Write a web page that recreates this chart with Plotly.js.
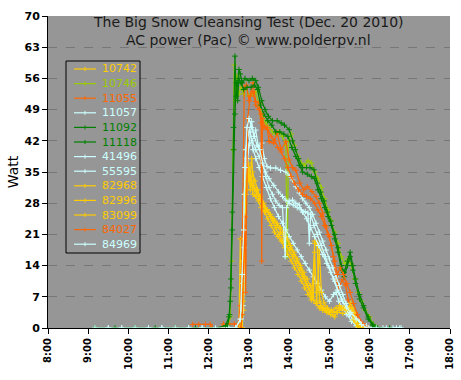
<!DOCTYPE html>
<html>
<head>
<meta charset="utf-8">
<script src="https://cdn.plot.ly/plotly-3.0.1.min.js"></script>
<style>html,body{margin:0;padding:0;background:#fff;}#chart{width:461px;height:380px;}</style>
</head>
<body>
<div id="chart"></div>
<script>
// ---- data (time "H:MM", watt) ----
const names = ["10742","10746","11055","11057","11092","11118","41496","55595","82968","82996","83099","84027","84969"];
const colors = ["#FFCC00","#99CC00","#FF6600","#CCFFFF","#008000","#008000","#CCFFFF","#CCFFFF","#FFCC00","#FFCC00","#FFCC00","#FF6600","#CCFFFF"];

const t10742 = ["12:45","12:47","12:48","12:52","12:54","12:56","12:59","13:02","13:05","13:08","13:12","13:17","13:22","13:27","13:32","13:37","13:42","13:47","13:52","13:57","14:02","14:07","14:12","14:17","14:22","14:27","14:32","14:36","14:38","14:42","14:44","14:47","14:52","14:58","15:05","15:12","15:20","15:28","15:35","15:40","15:45","15:50"];
const v10742 = [0,20,0,4,28,35,37,34,32,31,30,29.5,28,26.5,25,24.2,23,21.5,20.5,19.5,18,16.5,15,13.5,11.5,9.5,7.8,6.3,19,19,9.3,5,4.5,4,3.5,3.5,3.3,3.3,3,1.8,0.5,0];

const t10746 = ["12:28","12:32","12:34","12:36","12:38","12:40","12:42","12:45","12:48","12:52","12:56","13:00","13:05","13:10","13:15","13:20","13:25","13:30","13:35","13:40","13:45","13:50","13:55","13:57","13:59","14:03","14:08","14:13","14:18","14:23","14:28","14:33","14:38","14:43","14:48","14:53","14:58","15:03","15:08","15:13","15:18","15:23","15:28","15:33","15:38","15:43","15:48","15:53","16:00","16:06","16:12"];
const v10746 = [0,2.5,15,40,59,51,56.5,52.5,54,52.5,54,52,52.5,53,50,47.5,46,45,44,43.5,44,43,41,16,42,43.5,41,38.5,37,36.5,37.5,37,35,33.5,31.5,29,26.5,24,21.5,19,16,14.5,15.5,14,11,8,6,4,2.5,0.8,0];

const t11055 = ["11:36","11:45","11:55","12:02","12:05","12:20","12:22","12:30","12:38","12:44","12:47","12:50","12:53","12:56","13:00","13:06","13:10","13:15","13:18","13:22","13:27","13:30","13:37","13:42","13:48","13:55","14:00","14:05","14:10","14:16","14:22","14:27","14:34","14:40","14:45","14:50","14:55","15:00","15:06","15:10","15:14","15:19","15:24","15:28","15:33","15:40","15:48","15:55"];
const v11055 = [0.8,0.8,0.8,0.8,0,0,0.9,0.9,0.9,0.9,5,20,54,54.5,51,55,50.8,50.5,46,45,45,41.8,41.5,43.7,40,41.8,37.7,36,35.4,32.5,31,31.7,30.6,29.5,28,25.8,22.7,20.5,16,10.8,9,10.8,9.6,6.3,4,2.5,0.7,0];

const t11057 = ["9:10","9:30","9:50","10:10","10:30","10:50","11:10","11:30","11:50","12:10","12:30","12:40","12:48","12:51","12:53","12:55","13:00","13:04","13:07","13:10","13:14","13:19","13:23","13:27","13:32","13:40","13:47","13:55","14:00","14:05","14:10","14:15","14:20","14:25","14:30","14:35","14:40","14:45","14:50","14:55","15:00","15:05","15:10","15:15","15:20","15:25","15:30","15:35","15:45","15:55","16:05","16:20","16:35","16:45"];
const v11057 = [0,0,0,0,0,0,0,0,0,0,0,0,2,10,30,40,44,46.3,43,44.4,40.7,41.5,38,36.2,35.9,35.9,35.4,35,34.3,33.2,31.7,30.3,29,28,27,25.5,23.5,21.5,19.5,17.5,15.5,13.5,11.5,9.5,7.5,5.5,4,3,1.5,0.5,0,0,0,0];

const t11092 = ["9:10","9:40","10:10","10:40","11:10","11:40","12:10","12:25","12:30","12:32","12:33","12:35","12:37","12:39","12:41","12:43","12:45","12:47","12:50","12:54","13:00","13:05","13:10","13:14","13:19","13:24","13:29","13:35","13:42","13:48","13:53","14:00","14:05","14:09","14:14","14:20","14:26","14:31","14:37","14:42","14:47","14:52","14:57","15:02","15:08","15:13","15:18","15:22","15:27","15:31","15:35","15:39","15:45","15:51","15:58","16:05","16:12","16:30"];
const v11092 = [0,0,0,0,0,0,0,0.5,2.5,6,11,26,45,61,52,55,58,57,55,56,55.5,56,55.5,54,51,49,47.5,46.5,46.5,46,45.5,44.5,42,40,38,36,36,36,35.5,32.5,30.5,28.5,26,24,21,18,14,12.5,15,17,14,11,7.5,5,2.5,0.8,0,0];

const t11118 = ["12:28","12:31","12:33","12:35","12:37","12:39","12:41","12:43","12:45","12:48","12:52","12:57","13:03","13:08","13:13","13:17","13:22","13:28","13:34","13:40","13:46","13:52","13:58","14:04","14:10","14:15","14:20","14:27","14:33","14:38","14:43","14:48","14:53","14:58","15:03","15:08","15:13","15:18","15:22","15:27","15:31","15:35","15:39","15:45","15:51","15:58","16:05","16:10"];
const v11118 = [0.5,3,9,22,40,48,55,51,56,55,53.5,54,54,54.5,53.5,50,48,46.5,45.5,44,44,43.5,43,40.5,38.5,36.5,35,34.5,34,33.5,31,29,27,25,23,20,17,13,11.5,14,16,13,10,6.5,4.5,2,0.5,0];

const t41496 = ["12:50","12:52","12:54","12:57","13:00","13:05","13:10","13:15","13:20","13:25","13:30","13:37","13:44","13:50","13:55","14:00","14:06","14:12","14:18","14:24","14:28","14:30","14:32","14:37","14:42","14:48","14:54","15:00","15:06","15:12","15:18","15:24","15:30","15:37","15:45","15:52"];
const v41496 = [0,8,25,38,41,42,40,38.5,36.5,35,33.5,32,30.5,29.5,28.7,28,27.6,27,26.5,26.1,25.8,19,25.5,23,21,18.5,16,13.5,11,8.5,6.5,4.5,3,1.5,0.5,0];

const t55595 = ["12:49","12:51","12:53","12:55","12:58","13:02","13:06","13:10","13:15","13:20","13:26","13:32","13:38","13:44","13:50","13:55","14:00","14:06","14:12","14:18","14:24","14:30","14:36","14:42","14:48","14:54","15:00","15:06","15:10","15:14","15:20","15:26","15:33","15:40","15:47"];
const v55595 = [0,5,18,30,38,44,40,38,36,34,31.5,29,27,25,23.5,22,20.5,19,17.5,16,14.5,13,11.5,10,8.5,7,6,7.5,8,6,4.5,3,1.5,0.5,0];

const t82968 = ["12:48","12:50","12:52","12:54","12:57","13:00","13:03","13:06","13:10","13:14","13:18","13:23","13:28","13:33","13:38","13:43","13:48","13:53","13:58","14:03","14:08","14:13","14:18","14:23","14:28","14:33","14:38","14:41","14:45","14:48","14:52","14:57","15:03","15:10","15:18","15:25","15:32","15:36","15:42","15:48"];
const v82968 = [0,3,15,25,31,34,33,30,29.5,28.5,27,26,24.5,23,21.5,20.5,19.5,18,16.5,15,13.5,12,10.5,9,7.5,6.3,17,5.6,17.5,8,5.6,4.5,4,4.5,4.5,4,5.6,1.8,0.3,0];

const t82996 = ["12:50","12:52","12:55","12:58","13:01","13:04","13:07","13:11","13:15","13:20","13:25","13:30","13:35","13:40","13:45","13:50","13:55","14:00","14:05","14:10","14:15","14:20","14:25","14:30","14:35","14:40","14:45","14:50","14:56","15:02","15:08","15:15","15:22","15:30","15:38","15:42","15:47"];
const v82996 = [0,10,30,36,33,38,32,31,29,27.5,26.5,25.5,24,22.5,21,19.5,18.5,17.5,16,14.5,13,11.5,10,8.5,7,5.5,4.5,4,3.5,3,2.5,5,4.5,4,3.5,1,0];

const t83099 = ["12:49","12:51","12:53","12:56","12:59","13:02","13:05","13:09","13:13","13:17","13:22","13:27","13:32","13:37","13:42","13:47","13:52","13:57","14:02","14:07","14:12","14:17","14:22","14:27","14:32","14:36","14:38","14:42","14:45","14:50","14:55","15:00","15:07","15:15","15:22","15:30","15:35","15:39","15:44","15:50"];
const v83099 = [0,6,20,33,36,31,35,33,31,29,27.5,26.5,25.5,24.5,23.5,22.5,21.5,20,18.5,17,15.5,14,12.5,11,9.5,8,19.5,18.5,6,4.5,4,3.5,3.5,4,4.5,4.5,4.5,2,0.5,0];

const t84027 = ["12:48","12:50","12:54","12:55","12:58","13:02","13:06","13:10","13:15","13:18","13:19","13:20","13:24","13:28","13:33","13:38","13:43","13:48","13:53","13:58","14:03","14:08","14:14","14:20","14:26","14:32","14:38","14:43","14:48","14:53","14:58","15:03","15:08","15:12","15:16","15:21","15:26","15:31","15:36","15:42","15:50","15:57"];
const v84027 = [0,3,25,8,47,52,53,50,49,48,15,47,45,44.5,43,42,40.5,39.5,38,36,34,32.5,31,30,29.5,29,28,26.5,25,23,21,18.5,15,12,13.5,12,10,8,5.5,3,1,0];

const t84969 = ["9:10","9:30","9:50","10:10","10:30","10:50","11:10","11:30","11:50","12:10","12:30","12:40","12:47","12:50","12:52","12:54","12:57","13:00","13:04","13:08","13:12","13:16","13:20","13:25","13:30","13:35","13:40","13:45","13:50","13:54","13:56","14:00","14:05","14:10","14:15","14:20","14:26","14:32","14:38","14:44","14:50","14:56","15:02","15:08","15:14","15:20","15:26","15:32","15:40","15:48","15:56","16:10","16:25","16:40","16:47"];
const v84969 = [0,0,0,0,0,0,0,0,0,0,0,0,2,12,22,36,45,47,45,43,41,40,37,34,31.5,30,28.5,27.5,27,16,27,28.5,28.7,28,27.6,26,24.5,22.5,20.5,18.5,16.5,14.5,12.5,10.5,8,6,4.5,3.5,2,0.8,0,0,0,0,0];

const xTickVals = [8,9,10,11,12,13,14,15,16,17,18];
const xTickText = ["8:00","9:00","10:00","11:00","12:00","13:00","14:00","15:00","16:00","17:00","18:00"];
const yTickVals = [0,7,14,21,28,35,42,49,56,63,70];
const titleLines = ["The Big Snow Cleansing Test (Dec. 20 2010)","AC power (Pac) © www.polderpv.nl"];

// ---- build ----
const times = [t10742,t10746,t11055,t11057,t11092,t11118,t41496,t55595,t82968,t82996,t83099,t84027,t84969];
const vals  = [v10742,v10746,v11055,v11057,v11092,v11118,v41496,v55595,v82968,v82996,v83099,v84027,v84969];
function toHours(s){ const p = s.split(":"); return (+p[0]) + (+p[1])/60; }

const traces = names.map((n,i)=>({
  type:"scatter", mode:"lines+markers",
  x: times[i].map(toHours), y: vals[i],
  name: n, showlegend:false,
  line:{color:colors[i], width:1.2},
  marker:{symbol:"cross-thin", size:4, color:colors[i], line:{color:colors[i], width:1}}
}));

// plot-area pixel geometry -> paper coordinates (for the hand-drawn legend box)
const PL=48, PR=450, PT=16, PB=328;
const px = x => (x-PL)/(PR-PL);
const py = y => (PB-y)/(PB-PT);
const FONT = "DejaVu Sans, Verdana, sans-serif";

const shapes = [{type:"rect", xref:"paper", yref:"paper", x0:px(66), x1:px(140), y0:py(61), y1:py(253),
  fillcolor:"#969696", line:{color:"#000", width:1}, layer:"above"}];
const annotations = [];
names.forEach((n,i)=>{
  const yc = 69 + i*14.6;
  shapes.push({type:"line", xref:"paper", yref:"paper", x0:px(74), x1:px(96), y0:py(yc), y1:py(yc),
    line:{color:colors[i], width:1.2}, layer:"above"});
  shapes.push({type:"line", xref:"paper", yref:"paper", x0:px(85), x1:px(85), y0:py(yc-2), y1:py(yc+2),
    line:{color:colors[i], width:1}, layer:"above"});
  annotations.push({xref:"paper", yref:"paper", x:px(100), y:py(yc), xanchor:"left", yanchor:"middle",
    text:n, showarrow:false, font:{family:FONT, size:11, color:colors[i]}});
});
annotations.push({xref:"paper", yref:"paper", x:px(248), y:py(22), xanchor:"center", yanchor:"middle",
  text:titleLines[0], showarrow:false, font:{family:FONT, size:14, color:"#1a1a1a"}});
annotations.push({xref:"paper", yref:"paper", x:px(248), y:py(40), xanchor:"center", yanchor:"middle",
  text:titleLines[1], showarrow:false, font:{family:FONT, size:14, color:"#1a1a1a"}});

const layout = {
  width:461, height:380,
  paper_bgcolor:"#ffffff", plot_bgcolor:"#969696",
  margin:{l:48, r:11, t:16, b:52, pad:0},
  font:{family:FONT, color:"#000"},
  showlegend:false,
  shapes:shapes, annotations:annotations,
  xaxis:{
    range:[8,18], tickvals:xTickVals, ticktext:xTickText.map(s=>"<b>"+s+"</b>"), tickangle:-90,
    showgrid:false, zeroline:false,
    showline:true, linecolor:"#000", linewidth:1,
    ticks:"outside", ticklen:5, tickcolor:"#000",
    tickfont:{family:FONT, size:10, color:"#000"}
  },
  yaxis:{
    range:[0,70], tickvals:yTickVals, ticktext:yTickVals.map(v=>"<b>"+v+"</b>"),
    showgrid:true, gridcolor:"#777777", griddash:"dash", gridwidth:1,
    zeroline:false,
    showline:true, linecolor:"#000", linewidth:1,
    ticks:"outside", ticklen:5, tickcolor:"#000",
    tickfont:{family:FONT, size:11, color:"#000"},
    title:{text:"Watt", font:{family:FONT, size:14, color:"#000"}, standoff:2}
  }
};

Plotly.newPlot("chart", traces, layout, {displayModeBar:false, staticPlot:true});
</script>
</body>
</html>
